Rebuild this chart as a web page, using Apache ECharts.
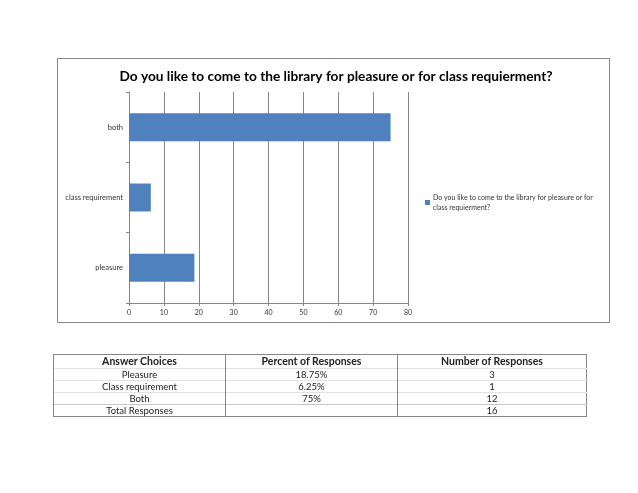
<!DOCTYPE html>
<html>
<head>
<meta charset="utf-8">
<script src="https://cdn.jsdelivr.net/npm/echarts@6/dist/echarts.min.js"></script>
<style>
	html, body { margin: 0; padding: 0; background: #fff; }
	#main { position: absolute; left: 0; top: 0; width: 638px; height: 493px; }
	#tbl { position: absolute; left: 53px; top: 354px; width: 534px; border-collapse: collapse; font-family: Lato, "Open Sans", sans-serif; font-size: 9.5px; color: #222; border: 1px solid #868686; }
	#tbl td, #tbl th { text-align: center; padding: 0; height: 11px; line-height: 11px; border-left: 1px solid #868686; border-top: 1px solid #e2e2e2; }
	#tbl th { font-size: 10.5px; height: 13px; line-height: 13px; border-top: none; }
	#tbl tr.total td { border-top: 1px solid #c8c8c8; }
</style>
</head>
<body>
<div id="main"></div>
<table id="tbl"></table>
<script>
	var categories = [ 'pleasure', 'class requirement', 'both' ];
	var percents = [ 18.75, 6.25, 75 ];
	var seriesName = 'Do you like to come to the library for pleasure or for class requierment?';
	var xTicks = { min : 0, max : 80, interval : 10 };

	var tableHead = [ 'Answer Choices', 'Percent of Responses', 'Number of Responses' ];
	var tableChoices = [ 'Pleasure', 'Class requirement', 'Both', 'Total Responses' ];
	var tablePercents = [ '18.75%', '6.25%', '75%', '' ];
	var tableCounts = [ '3', '1', '12', '16' ];

	// table under the chart
	var html = '<tr><th style="width:171px">' + tableHead[0] + '</th><th style="width:171px">' + tableHead[1] + '</th><th>' + tableHead[2] + '</th></tr>';
	for (var i = 0; i < tableChoices.length; i++) {
		html += '<tr' + (i == tableChoices.length - 1 ? ' class="total"' : '') + '><td>' + tableChoices[i] + '</td><td>' + tablePercents[i] + '</td><td>' + tableCounts[i] + '</td></tr>';
	}
	document.getElementById('tbl').innerHTML = html;

	var myChart = echarts.init(document.getElementById('main'));
	var axisColor = '#868686';
	myChart.setOption({
		animation : false,
		textStyle : {
			fontFamily : 'Lato, "Open Sans", sans-serif'
		},
		graphic : [ {
			type : 'rect',
			shape : { x : 57.5, y : 58.5, width : 552, height : 264 },
			style : { fill : 'none', stroke : axisColor, lineWidth : 1 },
			silent : true
		} ],
		title : {
			text : seriesName,
			left : 331,
			top : 65,
			textAlign : 'center',
			textStyle : {
				fontSize : 13.7,
				fontWeight : 'bold',
				color : '#000'
			}
		},
		legend : {
			left : 420,
			top : 183,
			orient : 'vertical',
			itemWidth : 5,
			itemHeight : 5,
			itemGap : 0,
			icon : 'rect',
			data : [ seriesName ],
			formatter : function(name) {
				return name.replace(' class ', '\nclass ');
			},
			textStyle : {
				fontSize : 7,
				color : '#333',
				lineHeight : 10,
				padding : [ 9, 0, 0, -2 ]
			}
		},
		grid : {
			left : 129,
			right : 230,
			top : 92,
			bottom : 190
		},
		xAxis : {
			type : 'value',
			min : xTicks.min,
			max : xTicks.max,
			interval : xTicks.interval,
			axisLine : { show : true, lineStyle : { color : axisColor } },
			axisTick : { show : true, length : 3, lineStyle : { color : axisColor } },
			axisLabel : { fontSize : 7, color : '#333', margin : 6 },
			splitLine : { show : true, lineStyle : { color : axisColor, width : 1 } }
		},
		yAxis : {
			type : 'category',
			data : categories,
			axisLine : { show : true, lineStyle : { color : axisColor } },
			axisTick : { show : true, length : 3, lineStyle : { color : axisColor } },
			axisLabel : { fontSize : 7.5, color : '#333', margin : 6 },
			splitLine : { show : false }
		},
		series : [ {
			name : seriesName,
			type : 'bar',
			data : percents,
			barWidth : 28,
			itemStyle : { color : '#4F81BD' }
		} ]
	});
</script>
</body>
</html>
